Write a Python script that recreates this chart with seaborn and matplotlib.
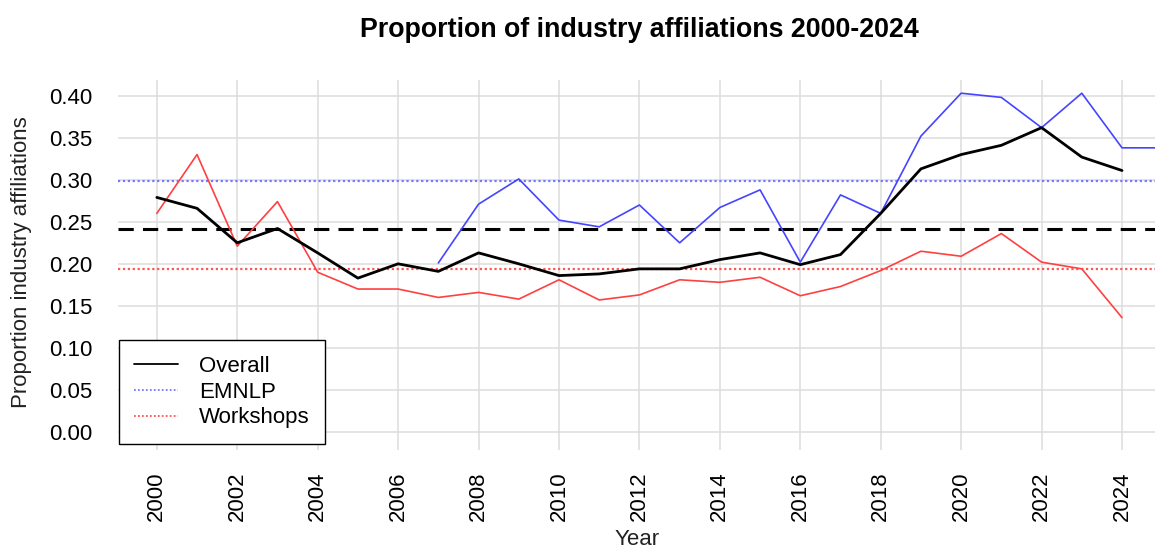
import numpy as np
import pandas as pd
import matplotlib
matplotlib.use("Agg")
import matplotlib.pyplot as plt
import seaborn as sns
from matplotlib.lines import Line2D

years = list(range(2000, 2025))
overall = [0.279, 0.266, 0.225, 0.242, 0.213, 0.183, 0.200, 0.191, 0.213, 0.200,
           0.186, 0.188, 0.194, 0.194, 0.205, 0.213, 0.199, 0.211, 0.260, 0.313,
           0.330, 0.341, 0.362, 0.327, 0.311]
workshops = [0.260, 0.330, 0.221, 0.274, 0.190, 0.170, 0.170, 0.160, 0.166, 0.158,
             0.181, 0.157, 0.163, 0.181, 0.178, 0.184, 0.162, 0.173, 0.192, 0.215,
             0.209, 0.236, 0.202, 0.194, 0.136]
emnlp_years = list(range(2007, 2026))
emnlp = [0.201, 0.271, 0.301, 0.252, 0.244, 0.270, 0.225, 0.267, 0.288, 0.202,
         0.282, 0.260, 0.352, 0.403, 0.398, 0.362, 0.403, 0.338, 0.338]

mean_overall = 0.242
mean_emnlp = 0.298
mean_workshops = 0.194

sns.set_theme(style="whitegrid")
plt.rcParams['font.family'] = ['Liberation Sans', 'DejaVu Sans']

fig = plt.figure(figsize=(11.55, 5.5), dpi=100)
ax = fig.add_axes([0.102, 0.182, 0.898, 0.673])

df_o = pd.DataFrame({"Year": years, "v": overall})
df_w = pd.DataFrame({"Year": years, "v": workshops})
df_e = pd.DataFrame({"Year": emnlp_years, "v": emnlp})

ax.axhline(mean_emnlp, color="#7777ff", linestyle=(0, (1, 1.2)), linewidth=1.6, zorder=2)
ax.axhline(mean_workshops, color="#ff5555", linestyle=(0, (1, 1.2)), linewidth=1.6, zorder=2)
ax.axhline(mean_overall, color="black", linestyle=(0, (5, 3)), linewidth=2.2, zorder=2)

sns.lineplot(data=df_w, x="Year", y="v", color="#ff4040", linewidth=1.2, ax=ax, zorder=3)
sns.lineplot(data=df_e, x="Year", y="v", color="#4545ff", linewidth=1.2, ax=ax, zorder=3)
sns.lineplot(data=df_o, x="Year", y="v", color="black", linewidth=2.0, ax=ax, zorder=4)

ax.set_xlim(1999.03, 2024.82)
ax.set_ylim(-0.0214, 0.419)
ax.set_xticks(list(range(2000, 2025, 2)))
ax.set_xticklabels([str(y) for y in range(2000, 2025, 2)], rotation=90)
ax.set_yticks(np.arange(0, 0.41, 0.05))
ax.set_yticklabels([f"{t:.2f}" for t in np.arange(0, 0.41, 0.05)])
ax.tick_params(axis='y', labelsize=16, colors="black", length=0, pad=18.5)
ax.tick_params(axis='x', labelsize=16, colors="black", length=0, pad=15.5)
ax.grid(True, color="#dddddd", linewidth=1.1)
for s in ax.spines.values():
    s.set_visible(False)

ax.set_xlabel("Year", fontsize=16, color="#222222")
ax.set_ylabel("Proportion industry affiliations", fontsize=16, color="#222222")
ax.xaxis.set_label_coords(0.5005, -0.215)
ax.yaxis.set_label_coords(-0.083, 0.508)
fig.text(0.554, 0.945, "Proportion of industry affiliations 2000-2024", fontsize=19.3,
         fontweight="bold", ha="center", va="center", color="black")

handles = [Line2D([], [], color="black", linewidth=1.3),
           Line2D([], [], color="#7777ff", linestyle=(0, (1, 1.2)), linewidth=1.3),
           Line2D([], [], color="#ff5555", linestyle=(0, (1, 1.2)), linewidth=1.3)]
leg = ax.legend(handles, ["Overall", "EMNLP", "Workshops"], loc="lower left",
                bbox_to_anchor=(0.001, 0.016), fontsize=16, frameon=True, fancybox=False,
                edgecolor="black", framealpha=1, borderpad=0.7, handlelength=1.95,
                handletextpad=0.95, labelspacing=0.22, borderaxespad=0.0)
leg.get_frame().set_linewidth(1.0)
for t in leg.get_texts():
    t.set_color("black")

fig.savefig("out.png", dpi=100)
